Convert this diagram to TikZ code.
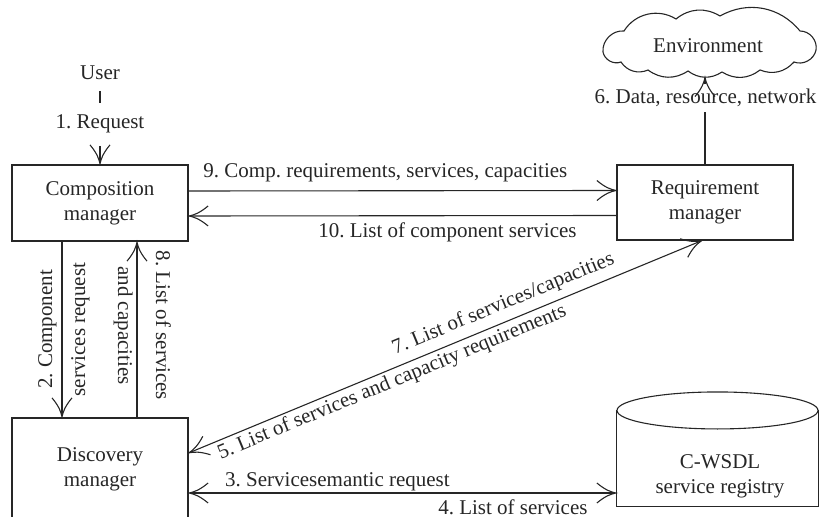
\documentclass[tikz,border=0pt]{standalone}
\usepackage{fontspec}
\setmainfont{Liberation Serif}
\usetikzlibrary{arrows.meta,calc}

% open arrow head with flared, curved barbs
\pgfdeclarearrow{
  name = Barb,
  parameters = {\the\pgfarrowlength,\the\pgfarrowwidth},
  setup code = {
    \pgfarrowssettipend{.5\pgflinewidth}
    \pgfarrowssetlineend{-.5\pgflinewidth}
    \pgfarrowssetbackend{-\pgfarrowlength}
    \pgfarrowssavethe\pgfarrowlength
    \pgfarrowssavethe\pgfarrowwidth
  },
  drawing code = {
    \pgfpathmoveto{\pgfqpoint{-\pgfarrowlength}{.5\pgfarrowwidth}}
    \pgfpathcurveto{\pgfqpoint{-.55\pgfarrowlength}{.14\pgfarrowwidth}}
                   {\pgfqpoint{-.25\pgfarrowlength}{.05\pgfarrowwidth}}
                   {\pgfqpoint{0pt}{0pt}}
    \pgfpathcurveto{\pgfqpoint{-.25\pgfarrowlength}{-.05\pgfarrowwidth}}
                   {\pgfqpoint{-.55\pgfarrowlength}{-.14\pgfarrowwidth}}
                   {\pgfqpoint{-\pgfarrowlength}{-.5\pgfarrowwidth}}
    \pgfusepathqstroke
  },
  defaults = {length = 19bp, width = 20bp}
}

\begin{document}
\frenchspacing
\begin{tikzpicture}[x=1bp,y=-1bp,
  font=\fontsize{21bp}{25bp}\selectfont\frenchspacing,
  line width=1.1bp, color=black!85,
  arr/.style={-{Barb[length=19bp,width=20bp]}},
  darr/.style={{Barb[length=19bp,width=20bp]}-{Barb[length=19bp,width=20bp]}},
  box/.style={draw, rectangle, align=center, minimum width=176bp, inner sep=0pt},
]
\useasboundingbox (0,0) rectangle (819,517);

% managers
\node[box, minimum height=76bp] (comp) at (100,203) {Composition\\manager};
\node[box, minimum height=75bp] (req)  at (705,202.5) {Requirement\\manager};
\node[box, minimum height=102bp] (disc) at (100,469) {Discovery\\manager};

% user
\node[anchor=base, inner ysep=10bp] (user) at (100,80) {User};

% environment cloud
\draw (603,52) to[bend left=50] (624,31) to[bend left=45] (676,19)
  to[bend left=35] (720,16) to[bend left=40] (800,31) to[bend left=50] (816,50)
  to[bend left=50] (794,62) to[bend left=35] (760,70) to[bend left=35] (722,72)
  to[bend left=35] (688,71) to[bend left=35] (648,70) to[bend left=40] (621,62)
  to[bend left=50] cycle;
\node (env) at (708,46) {Environment};
\coordinate (envb) at (705,77);

% service registry (cylinder with flat bottom)
\node[minimum width=201bp, minimum height=95bp, inner sep=0pt] (reg) at (717.5,458.5) {};
\draw (reg.north west) -- (reg.south west) -- (reg.south east) -- (reg.north east);
\draw (reg.north) ellipse [x radius=100.5bp, y radius=18.5bp];
\node[align=center] (regtext) at (720,476) {C-WSDL\\service registry};

% 1. request
\node[anchor=base, inner ysep=11.8bp] (l1) at (100,129) {1. Request};
\draw (user.south) -- (l1.north);
\draw[arr] (l1.south) -- (comp.north);

% 6. data, resource, network
\node[anchor=base, inner ysep=4.4bp] (l6) at (705.5,104) {6. Data, resource, network};
\draw (req.north) -- (req.north |- l6.south);
\draw[arr] (req.north |- l6.north) -- (req.north |- envb);

% 9 / 10
\draw[arr] ([yshift=12bp]comp.east) -- ([yshift=12bp]req.west)
  node[pos=0.46, anchor=base, yshift=13bp] (l9) {9. Comp. requirements, services, capacities};
\draw[arr] ([yshift=-13bp]req.west) -- ([yshift=-13bp]comp.east)
  node[pos=0.395, anchor=base, yshift=-22bp] (l10) {10. List of component services};

% 2 / 8
\draw[arr] ([xshift=-38bp]comp.south) -- ([xshift=-38bp]disc.north) coordinate[midway] (m2);
\node[rotate=90, anchor=base] (l2a) at ([xshift=-10bp]m2) {2. Component};
\node[rotate=90, anchor=base] (l2b) at ([xshift=23bp]m2) {services request};

\draw[arr] ([xshift=37bp]disc.north) -- ([xshift=37bp]comp.south) coordinate[midway] (m8);
\node[rotate=-90, anchor=base] (l8a) at ([xshift=19bp,yshift=4bp]m8) {8. List of services};
\node[rotate=-90, anchor=base] (l8b) at ([xshift=-19bp,yshift=4bp]m8) {and capacities};

% 5 / 7
\draw[darr] ([yshift=16bp]disc.east) -- ([xshift=-3bp]req.south)
  node[sloped, pos=0.626, anchor=base, yshift=12bp] (l7) {7. List of services/capacities}
  node[sloped, pos=0.387, anchor=base, yshift=-18bp] (l5) {5. List of services and capacity requirements};

% 3 / 4
\coordinate (d3) at ([yshift=-24bp]disc.east);
\draw[darr] (d3) -- (d3 -| reg.west)
  node[pos=0.348, anchor=base, yshift=7bp] (l3) {3. Servicesemantic request}
  node[pos=0.758, anchor=base, yshift=-21bp] (l4) {4. List of services};
\end{tikzpicture}
\end{document}
